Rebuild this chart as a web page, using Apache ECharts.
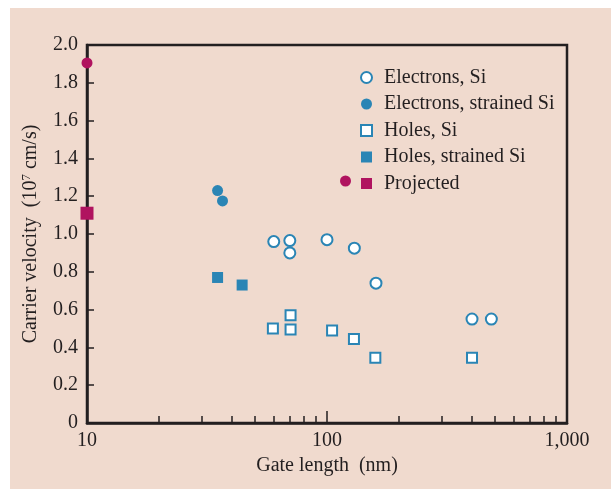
<!DOCTYPE html>
<html><head><meta charset="utf-8">
<script src="https://cdn.jsdelivr.net/npm/echarts@6/dist/echarts.min.js"></script>
<style>html,body{margin:0;padding:0;background:#fff}#c{width:611px;height:489px}</style>
</head><body><div id="c"></div>
<script>
// Data (gate length in nm, carrier velocity in 1e7 cm/s)
const electronsSiX = [60, 70, 70, 100, 130, 160, 402, 484];
const electronsSiY = [0.96, 0.965, 0.90, 0.97, 0.925, 0.74, 0.55, 0.55];
const electronsStrainedX = [35, 36.7];
const electronsStrainedY = [1.23, 1.175];
const holesSiX = [59.5, 70.5, 70.5, 105, 129.5, 159, 402];
const holesSiY = [0.50, 0.57, 0.495, 0.49, 0.445, 0.345, 0.345];
const holesStrainedX = [35, 44.3];
const holesStrainedY = [0.77, 0.73];
const projectedCircleX = [10];
const projectedCircleY = [1.905];
const projectedSquareX = [10];
const projectedSquareY = [1.11];
const xTickLabels = {10: '10', 100: '100', 1000: '1,000'};
const xMinorTicks = [20, 30, 40, 50, 60, 70, 80, 90, 200, 300, 400, 500, 600, 700, 800, 900];
const yTicks = [0, 0.2, 0.4, 0.6, 0.8, 1.0, 1.2, 1.4, 1.6, 1.8, 2.0];

const pair = (xs, ys) => xs.map((x, i) => [x, ys[i]]);
const BLUE = '#2a85b5', MAG = '#b0135f', INK = '#231f20', BG = '#f0dace';
const FONT = '"Liberation Serif", "DejaVu Serif", serif';
const FS = 20;

const chart = echarts.init(document.getElementById('c'));
chart.setOption({
  animation: false,
  textStyle: {fontFamily: FONT},
  graphic: [{type: 'rect', left: 10, top: 8, z: -10, shape: {width: 601, height: 481}, style: {fill: BG}}],
  grid: {left: 87, right: 44, top: 45, bottom: 66, show: true, borderColor: INK, borderWidth: 2.5, backgroundColor: 'transparent'},
  legend: [{
    orient: 'vertical', left: 355, top: 62.5, itemWidth: 11, itemHeight: 11, itemGap: 6.5,
    textStyle: {fontFamily: FONT, fontSize: FS, color: INK, padding: [0, 0, 0, 7]},
    data: ['Electrons, Si', 'Electrons, strained Si', 'Holes, Si', 'Holes, strained Si', 'Projected']
  }, {
    orient: 'vertical', left: 335, top: 170.5, itemWidth: 11, itemHeight: 11,
    formatter: () => '', textStyle: {fontSize: FS},
    data: ['Projected (circle)']
  }],
  xAxis: [{
    type: 'log', logBase: 10, min: 10, max: 1000,
    name: 'Gate length  (nm)', nameLocation: 'middle', nameGap: 33,
    nameTextStyle: {fontFamily: FONT, fontSize: FS, color: INK},
    axisLine: {lineStyle: {color: INK, width: 2.5}},
    axisTick: {show: true, inside: true, length: 7, lineStyle: {color: INK, width: 1.5}, customValues: xMinorTicks},
    axisLabel: {fontFamily: FONT, fontSize: FS, color: INK, margin: 8, formatter: v => xTickLabels[Math.round(v)] || ''},
    splitLine: {show: false}
  }, {
    type: 'log', logBase: 10, min: 10, max: 1000, position: 'bottom',
    axisLine: {show: false}, axisLabel: {show: false}, splitLine: {show: false},
    axisTick: {show: true, inside: true, length: 12, lineStyle: {color: INK, width: 1.5}, customValues: [100]}
  }],
  yAxis: {
    type: 'value', min: 0, max: 2, interval: 0.2,
    name: '{a|Carrier velocity  (10}{s|7}{a| cm/s)}', nameLocation: 'middle', nameGap: 45,
    nameTextStyle: {rich: {a: {fontFamily: FONT, fontSize: FS, color: INK}, s: {fontFamily: FONT, fontSize: 13, color: INK, verticalAlign: 'bottom', padding: [0, 0, 9, 0]}}},
    axisLine: {show: true, lineStyle: {color: INK, width: 2.5}},
    axisTick: {show: true, inside: true, length: 7, lineStyle: {color: INK, width: 1.5}},
    axisLabel: {fontFamily: FONT, fontSize: FS, color: INK, margin: 9, formatter: v => v === 0 ? '0' : v.toFixed(1)},
    splitLine: {show: false}
  },
  series: [
    {name: 'Electrons, Si', type: 'scatter', symbol: 'circle', symbolSize: 11, data: pair(electronsSiX, electronsSiY),
     itemStyle: {color: '#fff', borderColor: BLUE, borderWidth: 2, opacity: 1}},
    {name: 'Electrons, strained Si', type: 'scatter', symbol: 'circle', symbolSize: 11, data: pair(electronsStrainedX, electronsStrainedY),
     itemStyle: {color: BLUE, opacity: 1}},
    {name: 'Holes, Si', type: 'scatter', symbol: 'rect', symbolSize: 10, data: pair(holesSiX, holesSiY),
     itemStyle: {color: '#fff', borderColor: BLUE, borderWidth: 2, opacity: 1}},
    {name: 'Holes, strained Si', type: 'scatter', symbol: 'rect', symbolSize: 11, data: pair(holesStrainedX, holesStrainedY),
     itemStyle: {color: BLUE, opacity: 1}},
    {name: 'Projected', type: 'scatter', symbol: 'rect', symbolSize: 13, data: pair(projectedSquareX, projectedSquareY),
     itemStyle: {color: MAG, opacity: 1}, clip: false, z: 5},
    {name: 'Projected (circle)', type: 'scatter', symbol: 'circle', symbolSize: 11, data: pair(projectedCircleX, projectedCircleY),
     itemStyle: {color: MAG, opacity: 1}, clip: false, z: 5}
  ]
});
</script></body></html>
